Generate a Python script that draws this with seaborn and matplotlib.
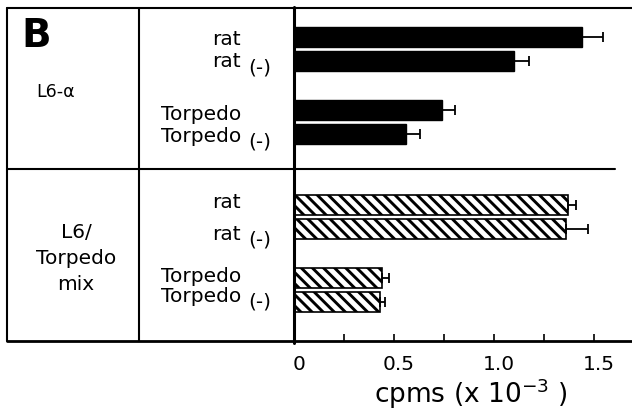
import matplotlib
matplotlib.use("Agg")
import matplotlib.pyplot as plt
from matplotlib.lines import Line2D
from matplotlib.transforms import ScaledTranslation
import numpy as np
import pandas as pd
import seaborn as sns

# ---------------- data ----------------
conditions = ["rat", "rat (-)", "Torpedo", "Torpedo (-)"]
l6_alpha_values = [1.44, 1.10, 0.74, 0.56]
l6_alpha_errors = [0.105, 0.075, 0.065, 0.07]
mix_values = [1.37, 1.36, 0.44, 0.43]
mix_errors = [0.04, 0.11, 0.035, 0.025]
x_major_ticks = [0, 0.5, 1.0, 1.5]
x_tick_labels = ["0", "0.5", "1.0", "1.5"]
x_minor_ticks = [0.25, 0.75, 1.25]
panel_letter = "B"
group_top_label = "L6-α"
group_bottom_lines = ["L6/", "Torpedo", "mix"]
x_axis_label = r"cpms (x 10$^{-3}$ )"

# ---------------- style ----------------
sns.set_style("white")
plt.rcParams["font.family"] = ["DejaVu Sans"]
plt.rcParams["text.color"] = "black"
plt.rcParams["xtick.color"] = "black"
plt.rcParams["mathtext.fontset"] = "dejavusans"
plt.rcParams["hatch.linewidth"] = 2.1
plt.rcParams["hatch.color"] = "black"

W, H = 632, 416
fig = plt.figure(figsize=(W / 100, H / 100), dpi=100)


def fx(x):
    return x / W


def fy(y):
    return 1 - y / H


def add_axes(top, bottom):
    return fig.add_axes([fx(294), fy(bottom), fx(632) - fx(294), (bottom - top) / H])


ax_top = add_axes(8, 169)
ax_bot = add_axes(169, 341)

gap = " "
order = ["rat", "rat (-)", gap, "Torpedo", "Torpedo (-)"]
positions = [order.index(c) for c in conditions]

df_top = pd.DataFrame({"condition": conditions, "cpms": l6_alpha_values})
df_bot = pd.DataFrame({"condition": conditions, "cpms": mix_values})

sns.barplot(data=df_top, x="cpms", y="condition", order=order, orient="h",
            color="black", saturation=1, edgecolor="black", linewidth=1,
            width=0.83, errorbar=None, ax=ax_top)
sns.barplot(data=df_bot, x="cpms", y="condition", order=order, orient="h",
            color="white", saturation=1, edgecolor="black", linewidth=1.2,
            hatch="\\\\\\", width=0.82, errorbar=None, ax=ax_bot)

for ax, vals, errs in [(ax_top, l6_alpha_values, l6_alpha_errors),
                       (ax_bot, mix_values, mix_errors)]:
    ax.errorbar(vals, positions, xerr=[np.zeros(len(errs)), errs], fmt="none",
                ecolor="black", elinewidth=1.3, capsize=3.6, capthick=1.3, zorder=3)
    ax.set_xlim(0, 1.69)
    ax.set_xlabel("")
    ax.set_ylabel("")
    ax.set_yticks([])
    for s in ax.spines.values():
        s.set_visible(False)
    ax.patch.set_alpha(0)

ax_top.set_ylim(5.46, -1.21)
ax_bot.set_ylim(5.61, -1.485)
ax_top.set_xticks([])

ax_bot.set_xticks(x_major_ticks)
ax_bot.set_xticklabels(x_tick_labels, fontsize=14.5)
ax_bot.set_xticks(x_minor_ticks, minor=True)
ax_bot.tick_params(axis="x", which="both", direction="in", length=5, width=1.2,
                   pad=10, bottom=True, colors="black")
offset = ScaledTranslation(0.05, 0, fig.dpi_scale_trans)
for lbl in ax_bot.get_xticklabels():
    lbl.set_transform(lbl.get_transform() + offset)


# ---------------- table lines ----------------
def hline(y, x0, x1, lw):
    fig.add_artist(Line2D([fx(x0), fx(x1)], [fy(y), fy(y)], color="black",
                          lw=lw, transform=fig.transFigure))


def vline(x, y0, y1, lw):
    fig.add_artist(Line2D([fx(x), fx(x)], [fy(y0), fy(y1)], color="black",
                          lw=lw, transform=fig.transFigure))


hline(8, 7, 632, 1.5)
hline(169, 7, 615, 1.5)
hline(341, 7, 632, 2.0)
vline(7, 8, 341, 1.5)
vline(139, 8, 341, 1.5)
vline(294, 7, 343, 2.2)

# ---------------- texts ----------------
fig.text(fx(21), fy(47), panel_letter, fontsize=28, fontweight="bold",
         ha="left", va="baseline")
fig.text(fx(36), fy(97), group_top_label, fontsize=12.5, ha="left", va="baseline")
for line, base in zip(group_bottom_lines, [238, 264, 290]):
    fig.text(fx(76), fy(base), line, fontsize=14.5, ha="center", va="baseline")

label_baselines = {"top": [45, 67, 120, 142], "bot": [208, 240, 282, 302]}
for key in ["top", "bot"]:
    for cond, base in zip(conditions, label_baselines[key]):
        name, _, suffix = cond.partition(" ")
        fig.text(fx(241), fy(base), name, fontsize=14.5, ha="right", va="baseline")
        if suffix:
            fig.text(fx(248), fy(base + 6), suffix, fontsize=14.5, ha="left",
                     va="baseline")

fig.text(fx(471), fy(403), x_axis_label, fontsize=19, ha="center", va="baseline")

fig.savefig("out.png", dpi=100)
